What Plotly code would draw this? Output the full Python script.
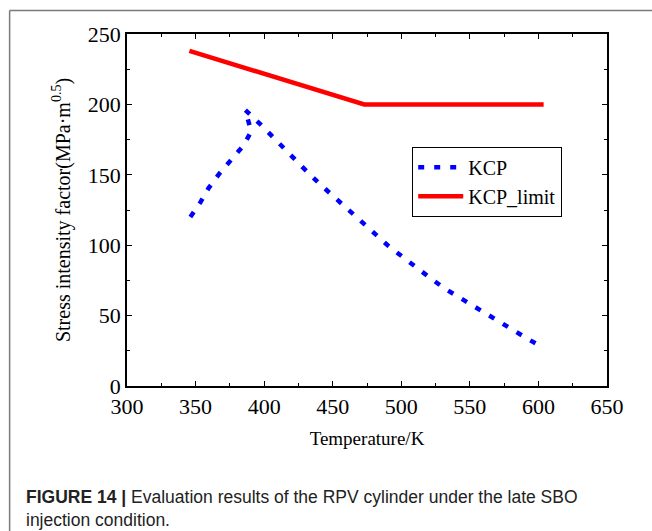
import plotly.graph_objects as go

# KCP curve: temperature (K) and stress intensity factor (MPa·m^0.5)
kcp_temp = [346.2, 353.5, 359.5, 367.3, 376.0, 385.0, 390.6, 387.5, 386.2,
            398.4, 410.0, 420.0, 428.2, 440.0, 450.0, 459.5, 469.0, 480.0,
            490.0, 500.3, 512.0, 522.0, 532.0, 542.0, 553.0, 563.0, 573.0,
            583.5, 593.0, 601.4]
kcp_value = [120.0, 130.4, 140.6, 150.8, 160.7, 170.8, 180.8, 191.4, 196.1,
             184.8, 173.0, 163.0, 155.2, 144.0, 135.0, 126.5, 118.0, 108.0,
             100.0, 92.2, 83.0, 76.0, 69.0, 63.1, 56.0, 50.0, 44.0,
             38.6, 33.0, 28.4]

# KCP_limit curve
limit_temp = [345.5, 387.5, 473.0, 603.8]
limit_value = [238.0, 225.7, 200.0, 200.0]

x_ticks = [300, 350, 400, 450, 500, 550, 600, 650]
y_ticks = [0, 50, 100, 150, 200, 250]

W, H = 652, 531
L, R, T, B = 126.5, 45, 34, 144.5
pw, ph = W - L - R, H - T - B


def px(xp):
    return (xp - L) / pw


def py(yp):
    return 1 - (yp - T) / ph


serif = "Liberation Serif, Times New Roman, serif"

fig = go.Figure()
fig.add_trace(go.Scatter(
    x=kcp_temp, y=kcp_value, mode="lines", name="KCP",
    line=dict(color="#0000ff", width=4.5, dash="6px,10px"),
))
fig.add_trace(go.Scatter(
    x=limit_temp, y=limit_value, mode="lines", name="KCP_limit",
    line=dict(color="#ff0000", width=4.5),
))

axis_common = dict(
    showline=True, linecolor="black", linewidth=1.5, mirror="ticks",
    ticks="inside", ticklen=5, tickwidth=1.2, tickcolor="black",
    showgrid=False, zeroline=False,
    tickfont=dict(family=serif, size=22, color="black"),
)

fig.update_xaxes(
    range=[300, 650], tickvals=x_ticks, **axis_common,
    minor=dict(ticks="inside", ticklen=3, tickwidth=1, tickcolor="black", dtick=25),
    title=dict(text="Temperature/K", font=dict(family=serif, size=19, color="black"),
               standoff=14),
)
fig.update_yaxes(
    range=[0, 250], tickvals=y_ticks, **axis_common,
    minor=dict(ticks="inside", ticklen=3, tickwidth=1, tickcolor="black", dtick=25),
    title=dict(text="Stress intensity factor(MPa·m<sup>0.5</sup>)",
               font=dict(family=serif, size=20, color="black"), standoff=12),
)

# open frame around the figure (top and left edges)
fig.add_shape(type="line", xref="paper", yref="paper",
              x0=px(9), x1=px(W + 5), y0=py(10.5), y1=py(10.5),
              line=dict(color="#7a7a7a", width=1.5))
fig.add_shape(type="line", xref="paper", yref="paper",
              x0=px(9), x1=px(9), y0=py(10.5), y1=py(H + 5),
              line=dict(color="#7a7a7a", width=1.5))

caption = ("<b>FIGURE 14 |</b> Evaluation results of the RPV cylinder under the late SBO"
           "<br>injection condition.")
fig.add_annotation(
    text=caption, xref="paper", yref="paper", x=px(23), y=py(486),
    xanchor="left", yanchor="top", align="left", showarrow=False,
    font=dict(family="Liberation Sans Narrow, Liberation Sans, Arial, sans-serif",
              size=17.5, color="#222222"),
)

fig.update_layout(
    width=W, height=H,
    margin=dict(l=L, r=R, t=T, b=B, pad=0),
    paper_bgcolor="white", plot_bgcolor="white",
    showlegend=True,
    legend=dict(
        x=px(412), y=py(147), xanchor="left", yanchor="top",
        bordercolor="black", borderwidth=1, bgcolor="white",
        font=dict(family=serif, size=20, color="black"),
        itemwidth=45, tracegroupgap=0,
    ),
)

fig.write_html("out.html")
